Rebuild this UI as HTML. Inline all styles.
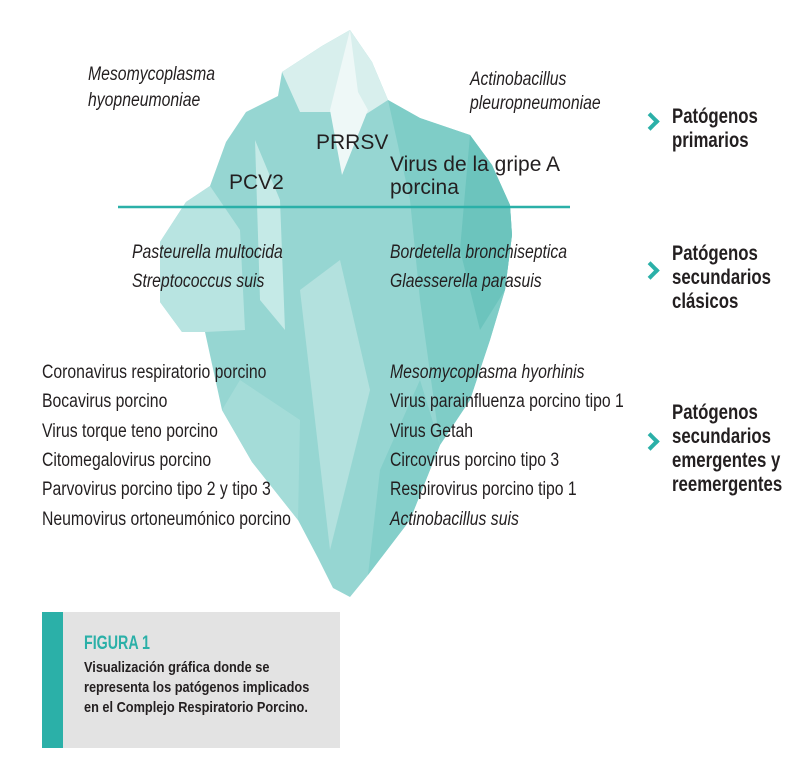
<!DOCTYPE html>
<html><head><meta charset="utf-8"><style>
body{margin:0;width:800px;height:767px;background:#fff;position:relative;overflow:hidden;font-family:"Liberation Sans",sans-serif;color:#231f20}
.t{position:absolute;white-space:nowrap;font-size:19px;line-height:20px;transform:scaleX(.83);transform-origin:left center}
.i{font-style:italic}
.s{position:absolute;white-space:nowrap;font-size:21px;line-height:22px}
.b{position:absolute;white-space:nowrap;font-weight:bold;font-size:21px;line-height:24px;transform:scaleX(.8);transform-origin:left top;color:#231f20}
.ch{position:absolute;width:9px;height:9px;border-top:4px solid #2bb0a8;border-right:4px solid #2bb0a8;transform:rotate(45deg)}
</style></head><body>
<svg width="800" height="767" style="position:absolute;left:0;top:0">
<polygon points="350,30 372,62 388,100 420,118 470,135 492,165 510,205 512,235 505,290 490,340 470,400 440,445 410,520 368,575 350,597 333,588 318,558 298,520 252,462 222,410 205,332 182,332 160,302 160,242 186,202 210,186 226,142 246,112 278,96 282,72 322,46" fill="#96d6d2"/>
<polygon points="350,30 372,62 388,100 360,118 338,112 300,112 282,72 322,46" fill="#d8efed"/>
<polygon points="350,30 358,92 368,110 342,175 330,110" fill="#eef8f7"/>
<polygon points="160,242 186,202 210,186 240,230 245,330 205,332 182,332 160,302" fill="#b8e4e1"/>
<polygon points="255,140 280,200 285,330 260,300" fill="#c5eae7"/>
<polygon points="388,100 420,118 470,135 492,165 510,205 512,235 505,290 490,340 470,400 440,445 420,300 410,200" fill="#7fcdc7"/>
<polygon points="470,135 492,165 510,205 512,235 505,290 480,330 460,250" fill="#6cc4bd"/>
<polygon points="300,290 340,260 370,390 330,550" fill="#b3e1de"/>
<polygon points="410,520 440,445 420,380 380,470 368,575" fill="#84cfca"/>
<polygon points="222,410 252,462 298,520 300,420 240,380" fill="#a4dcd8"/>
<line x1="118" y1="207" x2="570" y2="207" stroke="#2bb0a8" stroke-width="2.5"/>
<rect x="42" y="612" width="298" height="136" fill="#e3e3e3"/>
<rect x="42" y="612" width="21" height="136" fill="#2bb0a8"/>
</svg>
<div class="t i" style="left:88px;top:65px">Mesomycoplasma</div>
<div class="t i" style="left:88px;top:91px">hyopneumoniae</div>
<div class="t i" style="left:470px;top:70px">Actinobacillus</div>
<div class="t i" style="left:470px;top:94px">pleuropneumoniae</div>
<div class="s" style="left:316px;top:132px">PRRSV</div>
<div class="s" style="left:229px;top:172px">PCV2</div>
<div class="s" style="left:390px;top:154px">Virus de la gripe A</div>
<div class="s" style="left:390px;top:177px">porcina</div>
<div class="t i" style="left:132px;top:243px">Pasteurella multocida</div>
<div class="t i" style="left:132px;top:272px">Streptococcus suis</div>
<div class="t i" style="left:390px;top:243px">Bordetella bronchiseptica</div>
<div class="t i" style="left:390px;top:272px">Glaesserella parasuis</div>
<div class="t" style="left:42px;top:363px">Coronavirus respiratorio porcino</div>
<div class="t" style="left:42px;top:392px">Bocavirus porcino</div>
<div class="t" style="left:42px;top:422px">Virus torque teno porcino</div>
<div class="t" style="left:42px;top:451px">Citomegalovirus porcino</div>
<div class="t" style="left:42px;top:480px">Parvovirus porcino tipo 2 y tipo 3</div>
<div class="t" style="left:42px;top:510px">Neumovirus ortoneumónico porcino</div>
<div class="t i" style="left:390px;top:363px">Mesomycoplasma hyorhinis</div>
<div class="t" style="left:390px;top:392px">Virus parainfluenza porcino tipo 1</div>
<div class="t" style="left:390px;top:422px">Virus Getah</div>
<div class="t" style="left:390px;top:451px">Circovirus porcino tipo 3</div>
<div class="t" style="left:390px;top:480px">Respirovirus porcino tipo 1</div>
<div class="t i" style="left:390px;top:510px">Actinobacillus suis</div>
<div class="ch" style="left:644px;top:115px"></div>
<div class="b" style="left:672px;top:105px">Patógenos<br>primarios</div>
<div class="ch" style="left:644px;top:264px"></div>
<div class="b" style="left:672px;top:242px">Patógenos<br>secundarios<br>clásicos</div>
<div class="ch" style="left:644px;top:435px"></div>
<div class="b" style="left:672px;top:401px">Patógenos<br>secundarios<br>emergentes y<br>reemergentes</div>
<div style="position:absolute;left:84px;top:633px;font-size:19px;font-weight:bold;color:#2bb0a8;transform:scaleX(.75);transform-origin:left top;white-space:nowrap">FIGURA 1</div>
<div style="position:absolute;left:84px;top:658px;font-size:15px;line-height:20px;font-weight:bold;color:#231f20;transform:scaleX(.85);transform-origin:left top;white-space:nowrap">Visualización gráfica donde se<br>representa los patógenos implicados<br>en el Complejo Respiratorio Porcino.</div>
</body></html>
